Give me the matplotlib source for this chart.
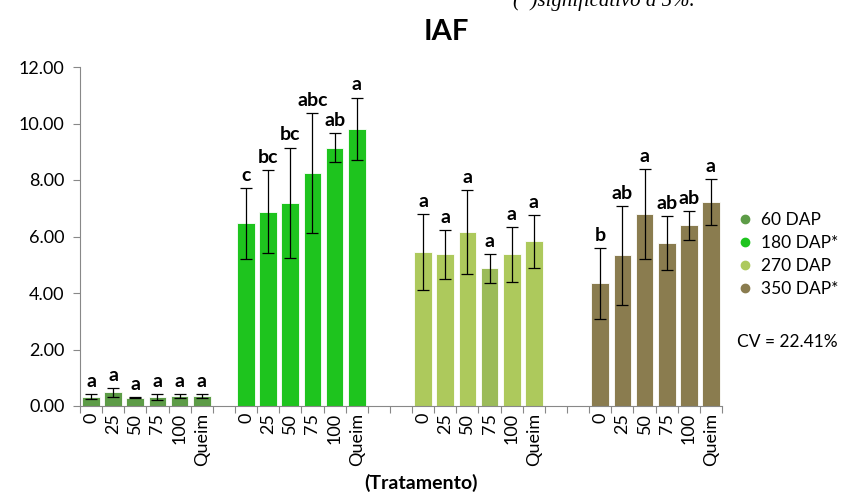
import numpy as np
import matplotlib.pyplot as plt
from matplotlib.lines import Line2D

plt.rcParams['font.family'] = ['Lato', 'DejaVu Sans']

doses = ["0", "25", "50", "75", "100", "Queim"]
series = ["60 DAP", "180 DAP*", "270 DAP", "350 DAP*"]
colors = ["#5D9C47", "#1EC41E", "#ADC95C", "#8A7C4F"]

iaf_60 = [0.33, 0.48, 0.30, 0.33, 0.35, 0.35]
err_60 = [0.08, 0.16, 0.02, 0.10, 0.07, 0.07]
iaf_180 = [6.47, 6.88, 7.20, 8.26, 9.14, 9.82]
err_180 = [1.25, 1.47, 1.95, 2.12, 0.52, 1.10]
iaf_270 = [5.44, 5.37, 6.17, 4.87, 5.37, 5.83]
err_270 = [1.35, 0.87, 1.48, 0.51, 0.97, 0.94]
iaf_350 = [4.34, 5.33, 6.81, 5.78, 6.39, 7.21]
err_350 = [1.26, 1.76, 1.59, 0.95, 0.51, 0.82]

letters_60 = ["a", "a", "a", "a", "a", "a"]
letters_180 = ["c", "bc", "bc", "abc", "ab", "a"]
letters_270 = ["a", "a", "a", "a", "a", "a"]
letters_350 = ["b", "ab", "a", "ab", "ab", "a"]

values = [iaf_60, iaf_180, iaf_270, iaf_350]
errors = [err_60, err_180, err_270, err_350]
letters = [letters_60, letters_180, letters_270, letters_350]
starts = [0, 7, 15, 23]   # first slot of each group on the category axis
n_slots = 29

fig = plt.figure(figsize=(8.43, 4.93), dpi=100)
ax = fig.add_axes([80 / 843, 1 - 406 / 493, 642 / 843, 339 / 493])

tick_pos, tick_lab = [], []
for g in range(4):
    x = np.arange(6) + starts[g] + 0.5
    cols = [colors[g]] * 6
    if g == 2:
        cols[3] = "#9BBB59"
    ax.bar(x, values[g], width=0.8, color=cols, edgecolor="white",
           linewidth=0.6, zorder=2)
    ax.errorbar(x, values[g], yerr=errors[g], fmt="none", ecolor="black",
                elinewidth=0.9, capsize=4.5, capthick=0.9, zorder=3)
    for xi, v, e, t in zip(x, values[g], errors[g], letters[g]):
        ax.annotate(t, (xi, v + e), xytext=(0, 3), textcoords="offset points",
                    ha="center", va="bottom", fontsize=14, fontweight="bold")
    tick_pos += list(x)
    tick_lab += doses

ax.set_xlim(0, n_slots)
ax.set_ylim(0, 12)
ax.set_yticks(np.arange(0, 12.1, 2))
ax.set_yticklabels([f"{v:.2f}" for v in np.arange(0, 12.1, 2)], fontsize=13)
ax.set_xticks(tick_pos)
ax.set_xticklabels(tick_lab, rotation=90, fontsize=13)
ax.set_xticks(np.arange(0, n_slots + 1), minor=True)
ax.tick_params(axis="x", which="major", length=0, pad=5)
ax.tick_params(axis="x", which="minor", length=5, color="#888888", width=0.8)
ax.tick_params(axis="y", length=5, color="#888888", width=0.8, pad=6)

for s in ["top", "right"]:
    ax.spines[s].set_visible(False)
for s in ["left", "bottom"]:
    ax.spines[s].set_color("#888888")
    ax.spines[s].set_linewidth(0.8)

ax.set_xlabel("(Tratamento)", fontsize=14, fontweight="bold", labelpad=2)
ax.xaxis.set_label_coords(0.531, -0.2)

fig.text(446 / 843, 1 - 32 / 493, "IAF", ha="center", va="center",
         fontsize=21, fontweight="bold")
fig.text(513 / 843, 1 - 6 / 493, "(*)significativo a 5%.", ha="left",
         va="baseline", fontsize=15, style="italic", family="Liberation Serif")

handles = [Line2D([], [], marker="o", ls="none", color=c, markersize=6)
           for c in colors]
leg = fig.legend(handles, series, loc="upper left",
                 bbox_to_anchor=(728 / 843, 1 - 205 / 493), frameon=False,
                 fontsize=12.5, handletextpad=0.3, labelspacing=0.4,
                 handlelength=1.2, borderaxespad=0)
fig.text(737 / 843, 1 - 342 / 493, "CV = 22.41%", fontsize=12.5,
         ha="left", va="center")

fig.savefig("out.png", dpi=100)
